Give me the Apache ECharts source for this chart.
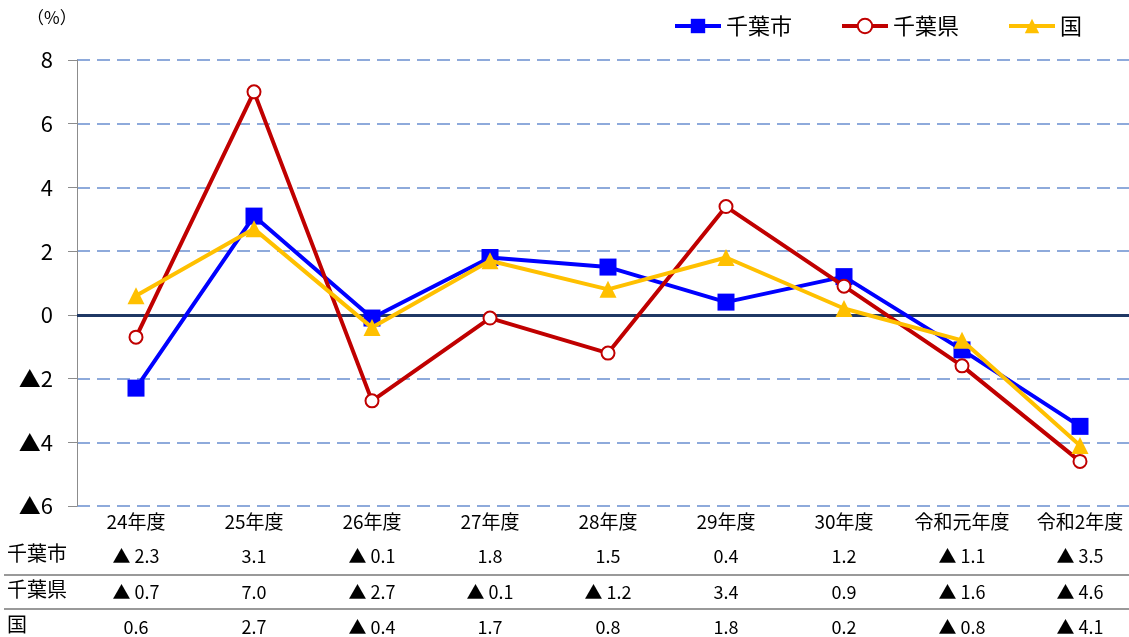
<!DOCTYPE html>
<html><head><meta charset="utf-8">
<script src="https://cdn.jsdelivr.net/npm/echarts@6/dist/echarts.min.js"></script>
<style>html,body{margin:0;padding:0;background:#fff;overflow:hidden;width:1129px;height:637px}#c{width:1145px;height:637px}</style>
</head><body><div id="c"></div>
<script>
const categories = ['24年度','25年度','26年度','27年度','28年度','29年度','30年度','令和元年度','令和2年度'];
const chibaCity = [-2.3, 3.1, -0.1, 1.8, 1.5, 0.4, 1.2, -1.1, -3.5];
const chibaPref = [-0.7, 7.0, -2.7, -0.1, -1.2, 3.4, 0.9, -1.6, -4.6];
const nation = [0.6, 2.7, -0.4, 1.7, 0.8, 1.8, 0.2, -0.8, -4.1];
const seriesNames = ['千葉市','千葉県','国'];
const yTicks = [-6, -4, -2, 0, 2, 4, 6, 8];

const FONT = '"Noto Sans CJK JP", "Noto Sans", sans-serif';
const fmtVal = v => v < 0 ? '▲ ' + Math.abs(v).toFixed(1) : v.toFixed(1);
const fmtTick = v => v < 0 ? '▲' + Math.abs(v) : String(v);

const chart = echarts.init(document.getElementById('c'), null, {renderer:'canvas'});
const tableRow = (data, offset) => ({
  type:'category', gridIndex:0, position:'bottom', offset: offset,
  data: data.map(fmtVal), boundaryGap:true,
  axisLine:{show:false}, axisTick:{show:false}, splitLine:{show:false},
  axisLabel:{interval:0, color:'#000', fontSize:18, fontFamily:FONT, margin:0, verticalAlign:'middle'}
});
const option = {
  animation:false,
  textStyle:{fontFamily:FONT},
  grid:{left:77, top:60, width:1062, height:446, containLabel:false},
  legend:{
    data: seriesNames, top:10, left:668, itemWidth:46, itemHeight:18, itemGap:48,
    lineStyle:{width:4},
    textStyle:{fontSize:22, color:'#000', fontFamily:FONT}
  },
  xAxis:[
    {type:'category', data:categories, boundaryGap:true,
     axisLine:{show:false}, axisTick:{show:false}, splitLine:{show:false},
     axisLabel:{interval:0, color:'#000', fontSize:19, fontFamily:FONT, margin:16, verticalAlign:'middle'}},
    tableRow(chibaCity, 50),
    tableRow(chibaPref, 86),
    tableRow(nation, 121)
  ],
  yAxis:{
    type:'value', min:-6, max:8, interval:2,
    axisLine:{show:true, lineStyle:{color:'#8c8c8c', width:1}},
    axisTick:{show:true, length:9, lineStyle:{color:'#8c8c8c'}},
    axisLabel:{color:'#000', fontSize:22, fontFamily:FONT, margin:24, formatter: v => fmtTick(v)},
    splitLine:{show:true, lineStyle:{color:'#8eaadb', width:2, type:[13,7]}}
  },
  series:[
    {name:seriesNames[0], type:'line', data:chibaCity, symbol:'rect', symbolSize:17,
     lineStyle:{color:'#0000ff', width:4}, itemStyle:{color:'#0000ff'}, z:3,
     markLine:{silent:true, symbol:'none', label:{show:false},
       lineStyle:{color:'#1f3864', width:3, type:'solid'}, data:[{yAxis:0}], z:1}},
    {name:seriesNames[1], type:'line', data:chibaPref, symbol:'circle', symbolSize:13,
     lineStyle:{color:'#c00000', width:4}, itemStyle:{color:'#fff', borderColor:'#c00000', borderWidth:2}, z:4},
    {name:seriesNames[2], type:'line', data:nation, symbol:'triangle', symbolSize:17,
     lineStyle:{color:'#ffc000', width:4}, itemStyle:{color:'#ffc000'}, z:5}
  ],
  graphic:[
    {type:'text', left:27, top:9, style:{text:'（%）', fill:'#000', font:'17px ' + FONT}},
    {type:'text', left:7, top:543, style:{text:seriesNames[0], fill:'#000', font:'20px ' + FONT}},
    {type:'text', left:7, top:579, style:{text:seriesNames[1], fill:'#000', font:'20px ' + FONT}},
    {type:'text', left:7, top:614, style:{text:seriesNames[2], fill:'#000', font:'20px ' + FONT}},
    {type:'line', shape:{x1:4, y1:575, x2:1145, y2:575}, style:{stroke:'#999', lineWidth:2}},
    {type:'line', shape:{x1:4, y1:609, x2:1145, y2:609}, style:{stroke:'#999', lineWidth:2}}
  ]
};
chart.setOption(option);
</script></body></html>
